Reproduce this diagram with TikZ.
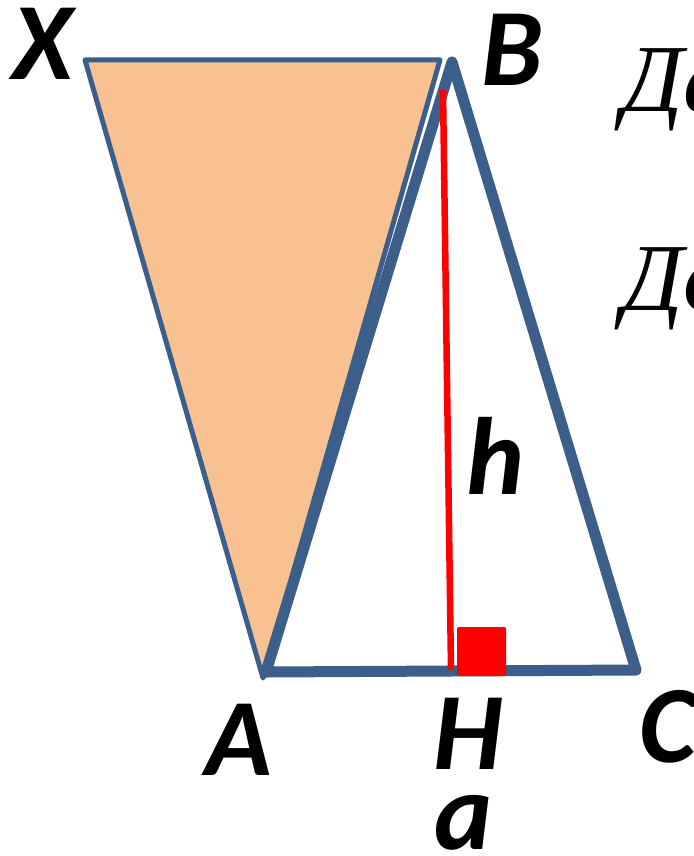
\documentclass[tikz,border=0pt]{standalone}
\usepackage{fontspec}
\newfontfamily\labfont{Carlito}
\newfontfamily\rusfont{Liberation Serif}
\definecolor{edgeblue}{HTML}{3B5E8B}
\definecolor{peach}{HTML}{F8C191}
\definecolor{hred}{HTML}{FF0000}
\tikzset{
  lab/.style={inner sep=0pt, font=\labfont\bfseries\itshape\fontsize{110}{110}\selectfont},
  rus/.style={inner sep=0pt, anchor=base west, font=\rusfont\itshape\fontsize{96}{96}\selectfont},
  thinedge/.style={draw=edgeblue, line width=5pt, line join=round, fill=peach},
  thickedge/.style={draw=edgeblue, line width=11pt, line join=round, line cap=round},
  altitude/.style={draw=hred, line width=6.5pt},
  rightmark/.style={fill=hred, rounded corners=2pt}
}
\begin{document}
\begin{tikzpicture}[x=1pt,y=-1pt]
\useasboundingbox (0,0) rectangle (693,856);
\clip (0,0) rectangle (693,856);
% vertices
\coordinate (X) at (85,60);
\coordinate (Xr) at (440,60);
\coordinate (Ao) at (263,678);
\coordinate (A) at (266,672);
\coordinate (B) at (452,62);
\coordinate (C) at (636,670);
\coordinate (Htop) at (443,90);
\coordinate (H) at (451,670);
\coordinate (S1) at (457,627);
\coordinate (S2) at (506,676);
% orange triangle
\draw[thinedge] (X) -- (Xr) -- (Ao) -- cycle;
% main triangle
\draw[thickedge] (A) -- (B) -- (C) -- cycle;
% altitude
\draw[altitude] (Htop) -- (H);
\fill[rightmark] (S1) rectangle (S2);
% labels
\node[lab] (lX) at (43,44) {X};
\node[lab] (lB) at (512,50) {B};
\node[lab] (lA) at (239,740) {A};
\node[lab] (lH) at (468,734) {H};
\node[lab] (lC) at (668,727) {C};
\node[lab] (la) at (464,823) {a};
\node[lab] (lh) at (495,456) {h};
\node[rus] (t1) at (622,112) {Дано};
\node[rus] (t2) at (622,310) {Доказать};
\end{tikzpicture}
\end{document}
